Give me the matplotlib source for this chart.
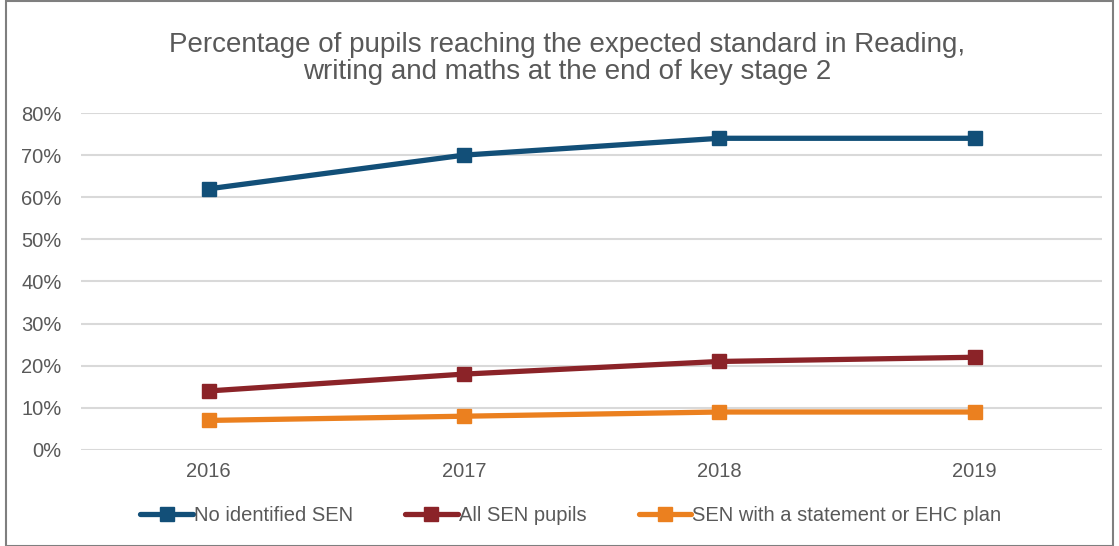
import matplotlib.pyplot as plt
from matplotlib.patches import Rectangle
from matplotlib.ticker import PercentFormatter

plt.rcParams['font.family'] = ['Liberation Sans', 'DejaVu Sans']

years = ["2016", "2017", "2018", "2019"]
no_sen = [62, 70, 74, 74]
all_sen = [14, 18, 21, 22]
ehc_plan = [7, 8, 9, 9]

series = [
    ("No identified SEN", no_sen, "#124F78"),
    ("All SEN pupils", all_sen, "#8B2328"),
    ("SEN with a statement or EHC plan", ehc_plan, "#EB801F"),
]

fig = plt.figure(figsize=(11.19, 5.46), dpi=100)
ax = fig.add_axes([0.0724, 0.176, 0.9126, 0.617])

x = range(len(years))
for label, vals, color in series:
    ax.plot(x, vals, color=color, linewidth=3.8, marker="s", markersize=9.5,
            label=label, solid_capstyle="round")

ax.set_xlim(-0.5, len(years) - 0.5)
ax.set_ylim(0, 80)
ax.set_yticks(range(0, 81, 10))
ax.yaxis.set_major_formatter(PercentFormatter(decimals=0))
ax.set_xticks(list(x))
ax.set_xticklabels(years)
ax.grid(axis="y", color="#D9D9D9", linewidth=1.5)
ax.set_axisbelow(True)
for s in ax.spines.values():
    s.set_visible(False)
ax.tick_params(length=0, labelsize=14.5, colors="#595959", pad=9)
ax.tick_params(axis="y", pad=14)

fig.text(0.507, 0.893, "Percentage of pupils reaching the expected standard in Reading,\n"
         "writing and maths at the end of key stage 2",
         ha="center", va="center", fontsize=20, color="#595959", linespacing=1.08)

fig.legend(loc="center", bbox_to_anchor=(0.51, 0.055), ncol=3, frameon=False,
           fontsize=14.5, labelcolor="#595959", handlelength=2.6,
           handletextpad=0.05, columnspacing=2.6)

fig.add_artist(Rectangle((0.005, 0.0), 0.99, 0.998, transform=fig.transFigure,
                         fill=False, edgecolor="#7F7F7F", linewidth=1.5))

fig.savefig("out.png", dpi=100)
